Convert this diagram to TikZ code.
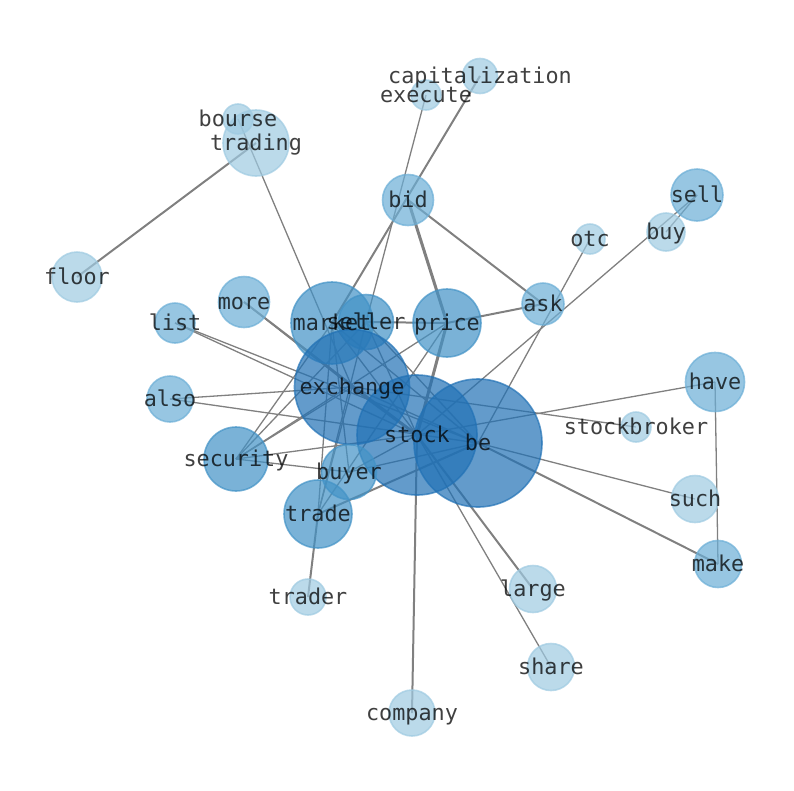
\documentclass[tikz,border=0pt]{standalone}
\usepackage{fontspec}
\setmonofont{DejaVu Sans Mono}

\definecolor{nlite}{HTML}{9ECAE1}
\definecolor{nmid}{HTML}{6BAED6}
\definecolor{ndark}{HTML}{4292C6}
\definecolor{ndeep}{HTML}{2171B5}
\definecolor{edgegray}{HTML}{808080}

\pgfdeclarelayer{bg}
\pgfdeclarelayer{fg}
\pgfsetlayers{bg,main,fg}

\begin{document}
\begin{tikzpicture}[x=1pt, y=-1pt,
    word/.style={circle, inner sep=0pt, fill=#1, draw=#1, line width=1.6pt, opacity=0.7},
    lbl/.style={inner sep=0pt, text=black, text opacity=0.75, text height=15pt, text depth=0pt,
        font=\ttfamily\fontsize{21.8}{26}\selectfont},
    thinedge/.style={edgegray, line width=1.3pt},
    midedge/.style={edgegray, line width=2pt},
    thickedge/.style={edgegray, line width=3pt}]
    \useasboundingbox (0,0) rectangle (794,790);

    % Word nodes: name / x / y / diameter / colour
    \foreach \n/\x/\y/\d/\c in {
        capitalization/480/76/35/nlite, execute/426/95/30/nlite,
        bourse/238/119/30/nlite, trading/256/143/66/nlite,
        bid/408/200/51/nmid, sell/697/195/52/nmid, buy/666/232/38/nlite,
        otc/590/239/30/nlite, floor/77/277/50/nlite, more/244/302/51/nmid,
        list/175/323/40/nmid, market/332/323/82/ndark, seller/366/322/55/ndark,
        price/447/323/68/ndark, ask/543/304/42/nmid, exchange/352/387/115/ndeep,
        also/170/399/46/nmid, have/715/382/59/nmid, stockbroker/636/427/30/nlite,
        stock/417/435/120/ndeep, be/478/443/128/ndeep, security/236/459/64/ndark,
        buyer/349/472/55/ndark, such/695/499/47/nlite, trade/318/514/68/ndark,
        make/718/564/47/nmid, large/533/589/47/nlite, trader/308/597/36/nlite,
        share/551/667/47/nlite, company/412/713/46/nlite}
        \node[word=\c, minimum size=\d pt] (\n) at (\x,\y) {};

    % Co-occurrence edges
    \begin{pgfonlayer}{bg}
        \foreach \a/\b in {bourse/exchange, execute/seller, otc/be, sell/buy,
            sell/stock, have/stock, have/make, exchange/stockbroker, list/stock,
            list/be, also/exchange, also/be, security/market, security/seller,
            security/price, security/stock, security/buyer, security/exchange,
            trade/market, trade/seller, trade/exchange, be/such, stock/share,
            market/buyer, price/trade, buyer/be, market/stock, market/be,
            seller/be, seller/stock, exchange/be, more/exchange, buyer/stock}
            \draw[thinedge] (\a.center) -- (\b.center);
        \foreach \a/\b in {floor/trading, capitalization/market, bid/ask,
            ask/price, seller/price, more/stock, be/make, stock/large,
            stock/company, trade/trader, trade/be}
            \draw[midedge] (\a.center) -- (\b.center);
        \foreach \a/\b in {bid/price, price/stock, exchange/stock}
            \draw[thickedge] (\a.center) -- (\b.center);
    \end{pgfonlayer}

    % Labels
    \begin{pgfonlayer}{fg}
        \foreach \n in {capitalization, execute, bourse, trading, bid, sell, buy,
            otc, floor, more, list, market, seller, price, ask, exchange, also,
            have, stockbroker, stock, be, security, buyer, such, trade, make,
            large, trader, share, company}
            \node[lbl] (\n-l) at (\n) {\n};
    \end{pgfonlayer}
\end{tikzpicture}
\end{document}
